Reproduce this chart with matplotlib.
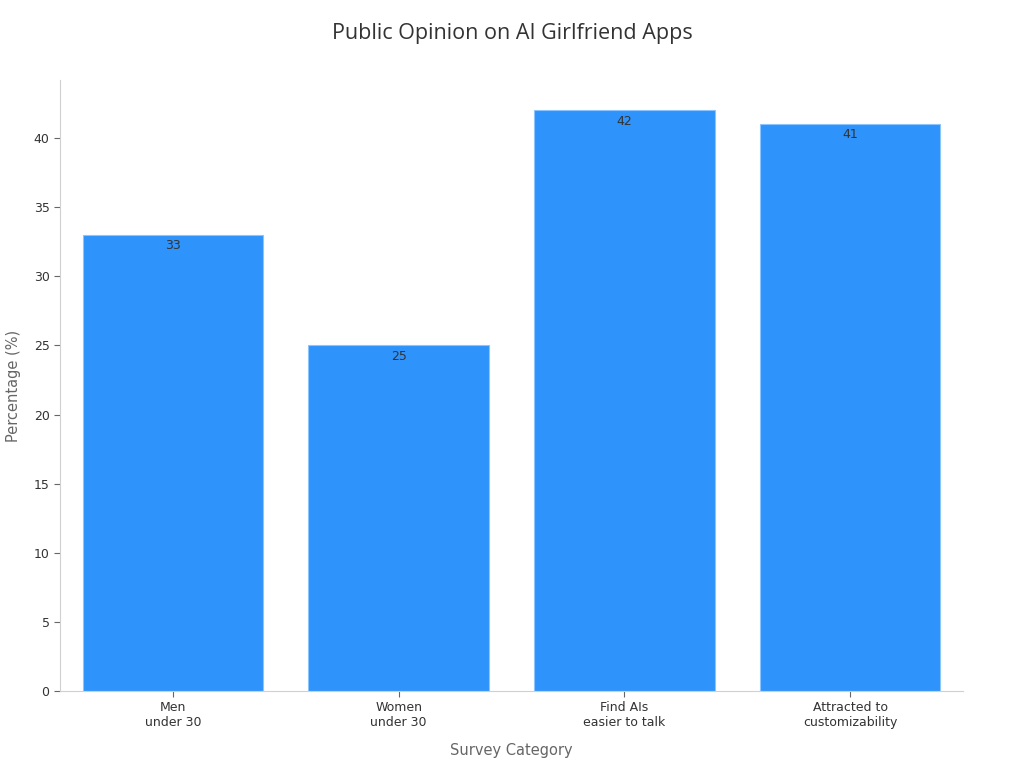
import matplotlib
matplotlib.use("Agg")
import matplotlib.pyplot as plt

categories = ["Men\nunder 30", "Women\nunder 30", "Find AIs\neasier to talk", "Attracted to\ncustomizability"]
values = [33, 25, 42, 41]

fig = plt.figure(figsize=(10.24, 7.68), dpi=100)
ax = fig.add_axes([60/1024, 1-691/768, (963-60)/1024, (691-80)/768])

x = range(len(categories))
bars = ax.bar(x, values, width=0.8, color="#2E93FA", edgecolor="#8CC4FF", linewidth=0.8)
for xi, v in zip(x, values):
    ax.text(xi, v - 0.3, f"{v}", ha="center", va="top", fontsize=9, color="#333333")

ax.set_xlim(-0.5, 3.5)
ax.set_ylim(0, 44.2)
ax.set_yticks(range(0, 45, 5))
ax.set_xticks(list(x))
ax.set_xticklabels(categories, fontsize=9, color="#333333")
ax.tick_params(axis="y", labelsize=9, labelcolor="#333333", color="#666666", length=4)
ax.tick_params(axis="x", color="#666666", length=4)
for s in ["top", "right"]:
    ax.spines[s].set_visible(False)
for s in ["left", "bottom"]:
    ax.spines[s].set_color("#d0d0d0")
ax.set_xlabel("Survey Category", fontsize=10.5, color="#666666", labelpad=10)
ax.set_ylabel("Percentage (%)", fontsize=10.5, color="#666666", labelpad=9)
fig.text(512/1024, 1-33/768, "Public Opinion on AI Girlfriend Apps", ha="center", va="center",
         fontsize=15.5, color="#333333", family="Open Sans")

fig.savefig("out.png", dpi=100)
